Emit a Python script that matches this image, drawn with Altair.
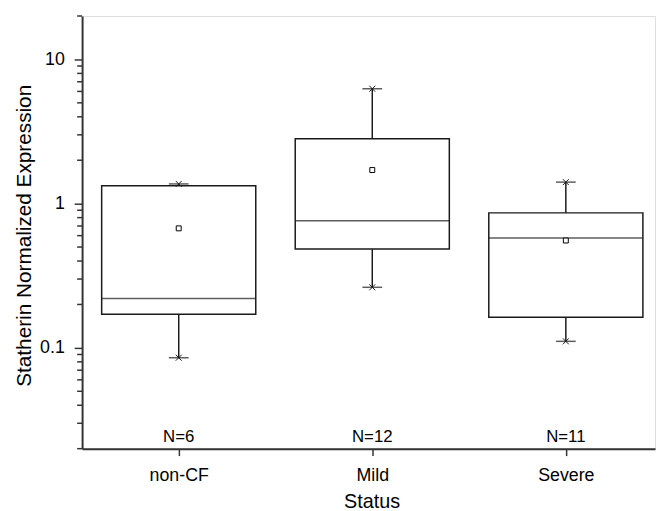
import altair as alt
import pandas as pd

# ---- data ----
categories = ["non-CF", "Mild", "Severe"]
n_labels = ["N=6", "N=12", "N=11"]
whisker_low = [0.0854, 0.263, 0.111]
q1 = [0.171, 0.484, 0.163]
median = [0.220, 0.762, 0.578]
q3 = [1.33, 2.82, 0.863]
whisker_high = [1.37, 6.26, 1.41]
means = [0.674, 1.71, 0.555]

major_ticks = [0.1, 1, 10]
minor_ticks = [0.02, 0.03, 0.04, 0.05, 0.06, 0.07, 0.08, 0.09,
               0.2, 0.3, 0.4, 0.5, 0.6, 0.7, 0.8, 0.9,
               2, 3, 4, 5, 6, 7, 8, 9, 20]
y_domain = [0.02, 20]

df = pd.DataFrame({
    "status": categories,
    "n": n_labels,
    "lo": whisker_low,
    "q1": q1,
    "med": median,
    "q3": q3,
    "hi": whisker_high,
    "mean": means,
})
minor_df = pd.DataFrame({"v": minor_ticks})

FONT = "Liberation Sans"
INK = "#333333"
DARK = "#1a1a1a"
BOXW = 156
PLOT_W = 580
PLOT_H = 438
MINOR_LEN = 5

xs = alt.Scale(type="point", domain=categories, padding=0.48, align=0.52)
ys = alt.Scale(type="log", domain=y_domain, nice=False)

x_axis = alt.Axis(
    title="Status", labelAngle=0, tickSize=7, tickWidth=1.5, tickColor=INK,
    domainColor=INK, domainWidth=2, labelFontSize=18, labelFont=FONT,
    labelColor="black", labelBaseline="alphabetic", labelPadding=25,
    titleFontSize=20, titleFont=FONT, titleFontWeight="normal", titleColor="black",
    titleBaseline="alphabetic", titleY=60, titleX=293, grid=False,
)
y_axis = alt.Axis(
    values=major_ticks, format="~g", labelOverlap=False,
    tickSize=8, tickWidth=1.5, tickColor=INK,
    domainColor=INK, domainWidth=2, labelFontSize=18, labelFont=FONT,
    labelColor="black", labelPadding=10,
    title="Statherin Normalized Expression", titleFontSize=21, titleFont=FONT,
    titleFontWeight="normal", titleColor="black", titleAngle=270,
    titleBaseline="alphabetic", titleX=-52, titleY=222, titleAlign="center",
    grid=False, orient="left",
)

X = alt.X("status:N", scale=xs, sort=categories, axis=x_axis)


def Y(field):
    return alt.Y(field, scale=ys, axis=y_axis)


base = alt.Chart(df)

box = base.mark_bar(size=BOXW, fill="white", stroke=DARK, strokeWidth=1.5).encode(
    x=X, y=Y("q1:Q"), y2="q3:Q"
)
whisk_lo = base.mark_rule(color=DARK, strokeWidth=1.5).encode(
    x=X, y=Y("lo:Q"), y2="q1:Q"
)
whisk_hi = base.mark_rule(color=DARK, strokeWidth=1.5).encode(
    x=X, y=Y("q3:Q"), y2="hi:Q"
)
med = base.mark_tick(size=BOXW, thickness=1.6, color=DARK, orient="horizontal").encode(
    x=X, y=Y("med:Q")
)
cap_lo = base.mark_tick(size=20, thickness=1.5, color=DARK, orient="horizontal").encode(
    x=X, y=Y("lo:Q")
)
cap_hi = base.mark_tick(size=20, thickness=1.5, color=DARK, orient="horizontal").encode(
    x=X, y=Y("hi:Q")
)
STAR = "M-1,-1L1,1M-1,1L1,-1"
star_lo = base.mark_point(shape=STAR, size=36, stroke=DARK, strokeWidth=1, filled=False, opacity=1).encode(
    x=X, y=Y("lo:Q")
)
star_hi = base.mark_point(shape=STAR, size=36, stroke=DARK, strokeWidth=1, filled=False, opacity=1).encode(
    x=X, y=Y("hi:Q")
)
mean_pt = base.mark_point(shape="square", size=25, fill="white", stroke="black",
                          strokeWidth=1, filled=True, opacity=1).encode(
    x=X, y=Y("mean:Q")
)
n_text = base.mark_text(baseline="alphabetic", dy=-7, fontSize=17, font=FONT, color="black").encode(
    x=X, y=alt.datum(y_domain[0], scale=ys, axis=y_axis), text="n:N"
)
# minor ticks of the log axis (short, outward from the y axis line)
minor = alt.Chart(minor_df).mark_rule(color=INK, strokeWidth=1.5).encode(
    x=alt.value(-MINOR_LEN), x2=alt.value(0), y=Y("v:Q")
)

chart = alt.layer(
    box, whisk_lo, whisk_hi, med, cap_lo, cap_hi, star_lo, star_hi, mean_pt, n_text, minor
).properties(
    width=PLOT_W, height=PLOT_H,
    autosize=alt.AutoSizeParams(type="none"),
    padding={"left": 75, "top": 5, "right": 3, "bottom": 61},
).configure_view(stroke=None).configure(background="white")

chart.save("out.html", embed_options={"renderer": "svg", "actions": False})
